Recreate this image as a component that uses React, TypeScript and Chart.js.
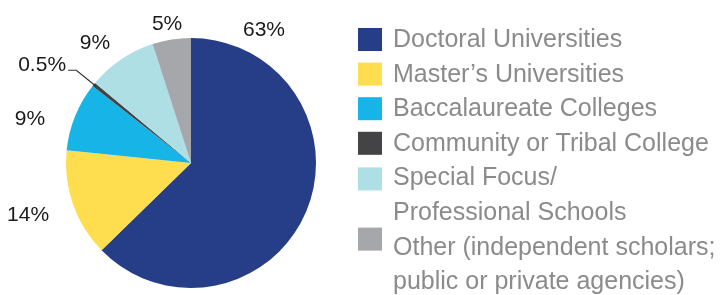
import React, { useEffect, useRef } from "react";
import { Chart, registerables } from "chart.js";

Chart.register(...registerables);

// ---- data ----
const categories = [
  "Doctoral Universities",
  "Master’s Universities",
  "Baccalaureate Colleges",
  "Community or Tribal College",
  "Special Focus/ Professional Schools",
  "Other (independent scholars; public or private agencies)",
];
const legendLines = [
  ["Doctoral Universities"],
  ["Master’s Universities"],
  ["Baccalaureate Colleges"],
  ["Community or Tribal College"],
  ["Special Focus/", "Professional Schools"],
  ["Other (independent scholars;", "public or private agencies)"],
];
const shares = [63, 14, 9, 0.5, 9, 5];
const shareLabels = ["63%", "14%", "9%", "0.5%", "9%", "5%"];
const colors = ["#263E87", "#FEDD4E", "#17B4E7", "#444446", "#ADDFE5", "#A6A7AB"];

// label placement (style): angle clockwise from top in degrees, distance as factor of radius
const labelAngles = [28.6, -107.4, -74.4, -56.4, -38.4, -9.7];
const labelDist = [1.22, 1.366, 1.337, 1.43, 1.236, 1.136];
const legendBoxShift = [0, 0, 0, 0, 1, -8];

const FONT = '"Liberation Sans", Arial, sans-serif';

const labelPlugin = {
  id: "pieLabels",
  afterDraw(chart: any) {
    const ctx = chart.ctx;
    const meta = chart.getDatasetMeta(0);
    const arc0 = meta.data[0];
    const cx = arc0.x;
    const cy = arc0.y;
    const r = arc0.outerRadius;
    ctx.save();
    ctx.font = `21px ${FONT}`;
    ctx.fillStyle = "#1a1a1a";
    ctx.textAlign = "center";
    ctx.textBaseline = "middle";
    shareLabels.forEach((t, i) => {
      const a = (labelAngles[i] * Math.PI) / 180;
      const d = labelDist[i] * r;
      const x = cx + d * Math.sin(a);
      const y = cy - d * Math.cos(a);
      ctx.fillText(t, x, y + 1);
      if (i === 3) {
        // leader line for the tiny slice
        const arc = meta.data[i];
        const mid = (arc.startAngle + arc.endAngle) / 2;
        const x1 = cx + r * 0.98 * Math.cos(mid);
        const y1 = cy + r * 0.98 * Math.sin(mid);
        const x2 = cx + r * 1.18 * Math.cos(mid);
        const y2 = cy + r * 1.18 * Math.sin(mid);
        const w = ctx.measureText(t).width;
        ctx.strokeStyle = "#333";
        ctx.lineWidth = 1.2;
        ctx.beginPath();
        ctx.moveTo(x1, y1);
        ctx.lineTo(x2, y2);
        ctx.lineTo(x + w / 2 + 2, y2);
        ctx.stroke();
      }
    });

    // legend
    const boxX = 358;
    const textX = 393;
    const firstBase = 47;
    const pitch = 34.6;
    ctx.font = `25px ${FONT}`;
    ctx.textAlign = "left";
    ctx.textBaseline = "alphabetic";
    let line = 0;
    legendLines.forEach((lines, i) => {
      const base = firstBase + line * pitch;
      ctx.fillStyle = colors[i];
      ctx.fillRect(boxX, base - 19 + legendBoxShift[i], 24, 23);
      ctx.fillStyle = "#8b8b8b";
      lines.forEach((l, j) => {
        ctx.fillText(l, textX, firstBase + (line + j) * pitch);
      });
      line += lines.length;
    });
    ctx.restore();
  },
};

export default function App() {
  const ref = useRef<HTMLCanvasElement | null>(null);
  useEffect(() => {
    if (!ref.current) return;
    const chart = new Chart(ref.current, {
      type: "pie",
      data: {
        labels: categories,
        datasets: [
          {
            data: shares,
            backgroundColor: colors,
            borderWidth: 0,
          },
        ],
      },
      options: {
        responsive: false,
        animation: false,
        layout: { padding: { left: 66, right: 407, top: 38, bottom: 7 } },
        plugins: {
          legend: { display: false },
          tooltip: { enabled: false },
        },
      },
      plugins: [labelPlugin],
    });
    return () => chart.destroy();
  }, []);
  return (
    <div style={{ position: "fixed", left: 0, top: 0, width: 723, height: 295, background: "#fff" }}>
      <canvas ref={ref} width={723} height={295} style={{ display: "block" }} />
    </div>
  );
}
